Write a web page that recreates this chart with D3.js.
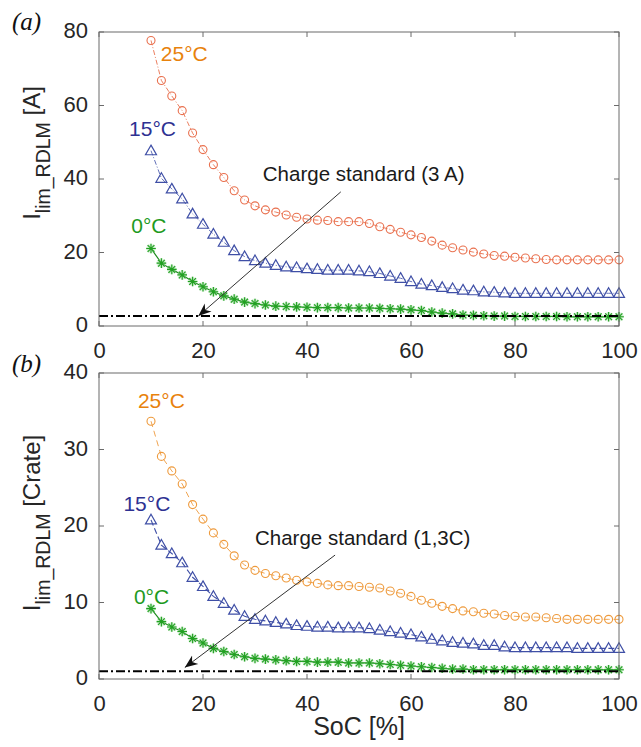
<!DOCTYPE html>
<html>
<head>
<meta charset="utf-8">
<script src="https://cdn.jsdelivr.net/npm/d3@7/dist/d3.min.js"></script>
<style>
  html, body { margin: 0; padding: 0; background: #fff; }
  svg { display: block; font-family: "Liberation Sans", Arial, sans-serif; }
</style>
</head>
<body>
<svg id="chart" width="641" height="747"></svg>
<script>
// ---------------- data ----------------
const soc = [10,12,14,16,18,20,22,24,26,28,30,32,34,36,38,40,42,44,46,48,50,52,54,56,58,60,62,64,66,68,70,72,74,76,78,80,82,84,86,88,90,92,94,96,98,100];

// panel (a): current limit [A]
const a25 = [77.7,66.8,62.6,58.6,52.5,48.0,43.9,40.4,36.8,34.3,32.7,31.6,31.0,30.2,29.6,29.1,28.8,
             28.7,28.4,28.4,28.4,27.9,27.0,26.3,25.5,24.8,24.1,23.1,22.0,21.3,20.7,20.1,19.6,19.2,19.0,18.7,18.5,18.3,18.1,
             18.0,18.0,18.0,18.0,18.0,18.0,18.0];
const a15 = [47.7,40.2,37.3,34.6,30.5,27.7,25.0,22.8,20.5,18.9,17.8,17.1,16.5,16.1,15.9,15.6,15.4,
             15.2,15.2,15.2,15.0,14.8,14.3,13.6,13.0,12.1,11.4,11.0,10.5,10.2,9.8,9.6,9.3,9.2,9.0,
             8.9,8.9,8.9,8.9,8.9,8.9,8.9,8.9,8.9,8.9,8.9];
const a0  = [21.1,17.1,15.4,13.9,12.1,10.7,9.3,8.2,7.3,6.5,6.1,5.7,5.4,5.3,5.2,5.1,5.0,
             5.0,5.0,4.9,4.9,4.9,4.8,4.7,4.6,4.4,4.2,3.8,3.5,3.3,3.0,2.9,2.8,2.7,2.7,
             2.6,2.6,2.6,2.6,2.6,2.5,2.5,2.5,2.5,2.5,2.5];

// panel (b): current limit [C-rate]
const b25 = [33.7,29.1,27.2,25.5,22.8,20.9,19.1,17.6,16.1,14.9,14.2,13.8,13.5,13.2,12.9,12.7,12.5,
             12.3,12.2,12.2,12.1,12.0,11.9,11.5,11.2,10.8,10.3,9.9,9.5,9.2,8.9,8.8,8.6,8.5,8.3,8.2,8.1,8.1,8.0,
             7.9,7.8,7.8,7.8,7.8,7.8,7.8];
const b15 = [20.8,17.5,16.4,15.2,13.3,12.1,10.8,9.9,9.0,8.2,7.8,7.6,7.4,7.2,7.0,6.9,6.8,
             6.8,6.7,6.7,6.7,6.6,6.4,6.2,6.0,5.8,5.5,5.2,5.0,4.8,4.7,4.6,4.4,4.4,4.2,
             4.1,4.1,4.1,4.1,4.1,4.1,4.0,4.0,4.0,4.0,4.0];
const b0  = [9.2,7.5,6.8,6.2,5.3,4.7,4.0,3.6,3.2,2.9,2.7,2.6,2.5,2.4,2.3,2.3,2.2,
             2.2,2.2,2.1,2.1,2.1,2.0,1.9,1.8,1.7,1.6,1.5,1.4,1.3,1.3,1.2,1.2,1.2,1.2,
             1.2,1.2,1.2,1.2,1.2,1.2,1.2,1.2,1.2,1.2,1.2];

const xTicks = [0,20,40,60,80,100];
const yTicksA = [0,20,40,60,80];
const yTicksB = [0,10,20,30,40];
const seriesNames = ["25°C","15°C","0°C"];
const chargeA = 2.7, chargeB = 1.0;
const chargeTextA = "Charge standard (3 A)";
const chargeTextB = "Charge standard (1,3C)";
// annotation anchor points in data units [soc, value]
const arrowA = [[46.5,36.5],[19.1,chargeA]];
const arrowB = [[45.4,16.2],[16.5,1.5]];
const textPosA = [31.5,40.8];
const textPosB = [30.0,18.2];
const labelPosA = [[16.4,73.5],[10.3,53.3],[9.6,26.9]];
const labelPosB = [[12.0,36.1],[9.2,22.7],[10.1,10.5]];

// ---------------- drawing ----------------
const svg = d3.select("#chart");
svg.append("rect").attr("width",641).attr("height",747).attr("fill","#fff");

const defs = svg.append("defs");
defs.append("marker").attr("id","arrowhead")
  .attr("viewBox","0 0 10 10").attr("refX",10).attr("refY",5)
  .attr("markerWidth",13).attr("markerHeight",13).attr("markerUnits","userSpaceOnUse")
  .attr("orient","auto")
  .append("path").attr("d","M0,1 L10,5 L0,9 L3,5 Z").attr("fill","#111");

const labelColors = ["#E8820C","#2E3192","#1E9A1E"];

function trianglePath(s){ const h=s*0.9; return `M0,${-h*0.62} L${s*0.55},${h*0.45} L${-s*0.55},${h*0.45} Z`; }
function starPath(s){
  const d = s*0.7;
  return `M0,${-s} L0,${s} M${-s},0 L${s},0 M${-d},${-d} L${d},${d} M${-d},${d} L${d},${-d}`;
}

function drawPanel(cfg){
  const x = d3.scaleLinear().domain([0,100]).range([99,619]);
  const y = d3.scaleLinear().domain(cfg.yDomain).range([cfg.y0, cfg.y1]);
  const g = svg.append("g");

  // series
  cfg.series.forEach((s,i) => {
    const pts = soc.map((v,j) => [v, s.values[j]]);
    const line = d3.line().x(d=>x(d[0])).y(d=>y(d[1]));
    g.append("path").attr("d", line(pts)).attr("fill","none")
      .attr("stroke", s.lineColor).attr("stroke-width", s.lineWidth)
      .attr("stroke-dasharray", s.dash || null);
    const mk = g.append("g");
    pts.forEach(p => {
      const cx = x(p[0]), cy = y(p[1]);
      if (s.marker === "circle") {
        mk.append("circle").attr("cx",cx).attr("cy",cy).attr("r",4)
          .attr("fill","none").attr("stroke",s.color).attr("stroke-width",1.1);
      } else if (s.marker === "triangle") {
        mk.append("path").attr("d",trianglePath(10)).attr("transform",`translate(${cx},${cy})`)
          .attr("fill","none").attr("stroke",s.color).attr("stroke-width",1.2);
      } else {
        mk.append("path").attr("d",starPath(4.8)).attr("transform",`translate(${cx},${cy})`)
          .attr("fill","none").attr("stroke","#8ad68a").attr("stroke-width",2.6).attr("opacity",0.5);
        mk.append("path").attr("d",starPath(4.8)).attr("transform",`translate(${cx},${cy})`)
          .attr("fill","none").attr("stroke",s.color).attr("stroke-width",1.1);
      }
    });
  });

  // charge standard line
  g.append("line").attr("x1",x(0)).attr("x2",x(100)).attr("y1",y(cfg.charge)).attr("y2",y(cfg.charge))
    .attr("stroke","#000").attr("stroke-width",2).attr("stroke-dasharray","9,3,2,3");

  // arrow annotation
  g.append("line").attr("x1",x(cfg.arrow[0][0])).attr("y1",y(cfg.arrow[0][1]))
    .attr("x2",x(cfg.arrow[1][0])).attr("y2",y(cfg.arrow[1][1]))
    .attr("stroke","#333").attr("stroke-width",1).attr("marker-end","url(#arrowhead)");
  g.append("text").attr("x",x(cfg.textPos[0])).attr("y",y(cfg.textPos[1]))
    .attr("dominant-baseline","middle").attr("font-size",20.5).attr("fill","#1a1a1a")
    .text(cfg.chargeText);

  // series labels
  cfg.labelPos.forEach((p,i) => {
    g.append("text").attr("x",x(p[0])).attr("y",y(p[1])).attr("text-anchor","middle")
      .attr("dominant-baseline","middle").attr("font-size",21).attr("fill",labelColors[i])
      .text(seriesNames[i]);
  });

  // frame
  g.append("rect").attr("x",99).attr("y",cfg.y1).attr("width",520).attr("height",cfg.y0-cfg.y1)
    .attr("fill","none").attr("stroke","#6b6b6b").attr("stroke-width",1);
  // inward ticks on all four sides
  const tk = 5;
  xTicks.forEach(t => {
    g.append("line").attr("x1",x(t)).attr("x2",x(t)).attr("y1",cfg.y0).attr("y2",cfg.y0-tk).attr("stroke","#6b6b6b");
    g.append("line").attr("x1",x(t)).attr("x2",x(t)).attr("y1",cfg.y1).attr("y2",cfg.y1+tk).attr("stroke","#6b6b6b");
  });
  cfg.yTicks.forEach(t => {
    g.append("line").attr("x1",99).attr("x2",99+tk).attr("y1",y(t)).attr("y2",y(t)).attr("stroke","#6b6b6b");
    g.append("line").attr("x1",619).attr("x2",619-tk).attr("y1",y(t)).attr("y2",y(t)).attr("stroke","#6b6b6b");
  });

  // axes labels via d3 axes (no lines)
  const xa = g.append("g").attr("transform",`translate(0,${cfg.y0})`)
    .call(d3.axisBottom(x).tickValues(xTicks).tickSize(0).tickPadding(0).tickFormat(d3.format("d")));
  xa.select(".domain").remove();
  xa.selectAll("text").attr("font-size",22).attr("fill","#262626")
    .attr("font-family","Liberation Sans, Arial, sans-serif")
    .attr("dy",null).attr("y",26).attr("dominant-baseline","middle");
  const ya = g.append("g").attr("transform","translate(99,0)")
    .call(d3.axisLeft(y).tickValues(cfg.yTicks).tickSize(0).tickPadding(11).tickFormat(d3.format("d")));
  ya.select(".domain").remove();
  ya.selectAll("text").attr("font-size",22).attr("fill","#262626")
    .attr("font-family","Liberation Sans, Arial, sans-serif")
    .attr("dy",null).attr("dominant-baseline","middle");

  // y label
  const yl = g.append("text").attr("transform",`translate(40,${cfg.yLabelY}) rotate(-90)`)
    .attr("text-anchor","middle").attr("font-size",24).attr("fill","#262626");
  yl.append("tspan").text("I");
  yl.append("tspan").attr("font-size",19.5).attr("dy",10).text("lim_RDLM");
  yl.append("tspan").attr("dy",-10).text("\u00a0" + cfg.unit);

  // panel tag
  svg.append("text").attr("x",12).attr("y",cfg.tagY).attr("font-family","Liberation Serif, serif")
    .attr("font-style","italic").attr("font-size",25).attr("fill","#111").text(cfg.tag);
}

drawPanel({
  yDomain:[0,80], y0:326, y1:32, yTicks:yTicksA,
  series:[
    {values:a25, marker:"circle", color:"#E9704E", lineColor:"#E9704E", lineWidth:0.9, dash:"5,2,1,2"},
    {values:a15, marker:"triangle", color:"#3F4FA6", lineColor:"#5060B0", lineWidth:0.9, dash:"5,2,1,2"},
    {values:a0, marker:"star", color:"#22A022", lineColor:"#1E8C1E", lineWidth:1.2}
  ],
  charge:chargeA, arrow:arrowA, textPos:textPosA, chargeText:chargeTextA,
  labelPos:labelPosA, unit:"[A]", yLabelY:153, tag:"(a)", tagY:30
});

drawPanel({
  yDomain:[0,40], y0:679, y1:373, yTicks:yTicksB,
  series:[
    {values:b25, marker:"circle", color:"#EE9A3C", lineColor:"#EE9A3C", lineWidth:0.9, dash:"6,4"},
    {values:b15, marker:"triangle", color:"#3F4FA6", lineColor:"#3F4FA6", lineWidth:1.1, dash:"6,3"},
    {values:b0, marker:"star", color:"#22A022", lineColor:"#1E8C1E", lineWidth:1.2}
  ],
  charge:chargeB, arrow:arrowB, textPos:textPosB, chargeText:chargeTextB,
  labelPos:labelPosB, unit:"[Crate]", yLabelY:523, tag:"(b)", tagY:372
});

// x axis title
svg.append("text").attr("x",359).attr("y",728).attr("text-anchor","middle")
  .attr("dominant-baseline","middle").attr("font-size",25).attr("fill","#262626").text("SoC [%]");
</script>
</body>
</html>
